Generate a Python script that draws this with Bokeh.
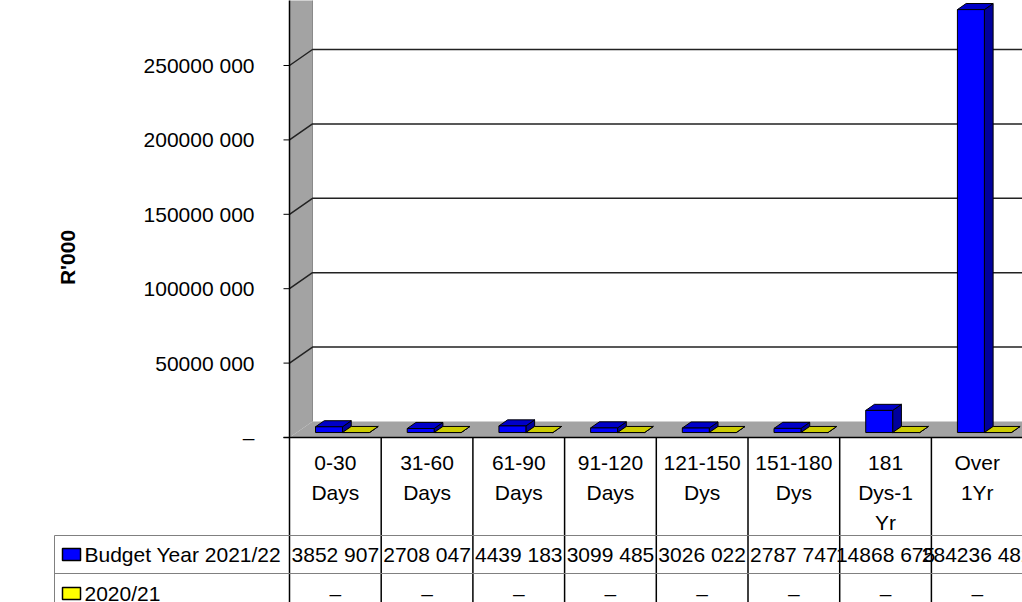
from math import pi
from bokeh.plotting import figure
from bokeh.models import Range1d
from bokeh.core.properties import value
from bokeh.embed import file_html
from bokeh.resources import INLINE

# ---------------- data ----------------
categories = ["0-30\nDays", "31-60\nDays", "61-90\nDays", "91-120\nDays",
              "121-150\nDys", "151-180\nDys", "181\nDys-1\nYr", "Over\n1Yr"]
series_names = ["Budget Year 2021/22", "2020/21"]
budget_2021_22 = [3852907, 2708047, 4439183, 3099485, 3026022, 2787747, 14868675, 284236482]
year_2020_21 = [0, 0, 0, 0, 0, 0, 0, 0]
y_ticks = [0, 50000000, 100000000, 150000000, 200000000, 250000000, 300000000]
y_axis_title = "R'000"

front_colors = ["#0000FF", "#FFFF00"]
top_colors = ["#0000C8", "#CCCC00"]
side_colors = ["#00009C", "#A0A000"]


def fmt(v):
    return "\u2013" if v == 0 else f"{v // 1000} {v % 1000:03d}"


# ---------------- layout (window pixels -> data) ----------------
W, H = 1022, 602
OX, OY = 0, 0
X0, CW = 289.0, 91.7          # window x of category 0 left edge, px per category
Y0, K = 437.0, 250e6 / 372.0  # window y of value 0, value units per px


def X(px):
    return (px - X0) / CW


def Y(py):
    return (Y0 - py) * K


DDX, DDY = 23 / CW, 16 * K    # full floor depth
NC = len(categories)
FAR = NC + 2

FONT = value("Liberation Sans")
FS = "21px"

p = figure(width=W, height=H, output_backend="svg", toolbar_location=None,
           x_range=Range1d(X(OX), X(OX + W)), y_range=Range1d(Y(OY + H), Y(OY)),
           x_axis_location=None, y_axis_location=None, min_border=0, title=None)
p.grid.visible = False
p.outline_line_color = None
p.background_fill_color = "white"
p.border_fill_color = "white"

TOP = Y(-100)

# side wall and floor
p.patch([0, DDX, DDX, 0], [0, DDY, TOP, TOP], fill_color="#A3A3A3", line_color=None)
p.patch([0, FAR, FAR + DDX, DDX], [0, 0, DDY, DDY], fill_color="#A3A3A3", line_color=None)
p.segment(x0=[DDX], y0=[DDY], x1=[DDX], y1=[TOP], line_color="#8A8A8A", line_width=1)

# gridlines on the walls
gt = y_ticks[1:]
p.multi_line(xs=[[0, DDX, FAR] for _ in gt], ys=[[t, t + DDY, t + DDY] for t in gt],
             line_color="#222222", line_width=1.5)

# axis lines and tick marks
p.segment(x0=[0], y0=[0], x1=[0], y1=[TOP], line_color="black", line_width=1.5)
p.segment(x0=[X(283)], y0=[0], x1=[FAR], y1=[0], line_color="black", line_width=1.5)
p.segment(x0=[X(283)] * len(y_ticks), y0=y_ticks, x1=[0] * len(y_ticks), y1=y_ticks,
          line_color="black", line_width=1)

p.text(x=[X(254)] * len(y_ticks), y=y_ticks, text=[fmt(t) for t in y_ticks],
       text_align="right", text_baseline="middle", text_font=FONT,
       text_font_size=FS, text_color="black")

p.text(x=[X(67)], y=[Y(257)], text=[y_axis_title], angle=pi / 2,
       text_align="center", text_baseline="middle", text_font=FONT,
       text_font_size=FS, text_font_style="bold", text_color="black")

# 3D bars
BAR_LEFT, BAR_W = 0.206, 0.294
FRONT_D, BAR_D = 0.31, 0.38
dxf, dyf = FRONT_D * DDX, FRONT_D * DDY
bdx, bdy = BAR_D * DDX, BAR_D * DDY

for s, vals in enumerate([budget_2021_22, year_2020_21]):
    lefts, rights, tops = [], [], []
    top_xs, top_ys, side_xs, side_ys = [], [], [], []
    for i, v in enumerate(vals):
        x0 = i + BAR_LEFT + s * BAR_W + dxf
        x1 = x0 + BAR_W
        lefts.append(x0)
        rights.append(x1)
        tops.append(v + dyf)
        top_xs.append([x0, x1, x1 + bdx, x0 + bdx])
        top_ys.append([v + dyf, v + dyf, v + dyf + bdy, v + dyf + bdy])
        side_xs.append([x1, x1, x1 + bdx, x1 + bdx])
        side_ys.append([dyf, v + dyf, v + dyf + bdy, dyf + bdy])
    p.patches(side_xs, side_ys, fill_color=side_colors[s], line_color="black", line_width=1)
    p.patches(top_xs, top_ys, fill_color=top_colors[s], line_color="black", line_width=1)
    p.quad(left=lefts, right=rights, bottom=[dyf] * len(vals), top=tops,
           fill_color=front_colors[s], line_color="black", line_width=1)

# ---------------- data table ----------------
BOTTOM = Y(700)
p.segment(x0=list(range(NC + 1)), y0=[0] * (NC + 1), x1=list(range(NC + 1)),
          y1=[BOTTOM] * (NC + 1), line_color="black", line_width=1.5)
p.segment(x0=[X(54)], y0=[Y(535)], x1=[X(54)], y1=[BOTTOM], line_color="#808080", line_width=1)
p.segment(x0=[X(54)] * 2, y0=[Y(535), Y(573)], x1=[FAR] * 2, y1=[Y(535), Y(573)],
          line_color="#808080", line_width=1)

centers = [i + 0.5 for i in range(NC)]
label_lines = [c.split("\n") for c in categories]
for k in range(max(len(l) for l in label_lines)):
    xs = [centers[i] for i, l in enumerate(label_lines) if len(l) > k]
    ts = [l[k] for l in label_lines if len(l) > k]
    p.text(x=xs, y=[Y(462 + 30 * k)] * len(xs), text=ts, text_align="center",
           text_baseline="middle", text_font=FONT, text_font_size=FS, text_color="black")

row_y = [Y(554), Y(593)]
for s, vals in enumerate([budget_2021_22, year_2020_21]):
    p.text(x=centers, y=[row_y[s]] * NC, text=[fmt(v) for v in vals], text_align="center",
           text_baseline="middle", text_font=FONT, text_font_size=FS, text_color="black")

# legend keys inside the table
key_top = [548, 587]
p.quad(left=[X(62)] * 2, right=[X(80)] * 2, top=[Y(t) for t in key_top],
       bottom=[Y(t + 12) for t in key_top], fill_color=front_colors,
       line_color="black", line_width=1.5)
p.text(x=[X(84)] * 2, y=row_y, text=series_names, text_align="left",
       text_baseline="middle", text_font=FONT, text_font_size=FS, text_color="black")

open("out.html", "w").write(file_html(p, INLINE))
